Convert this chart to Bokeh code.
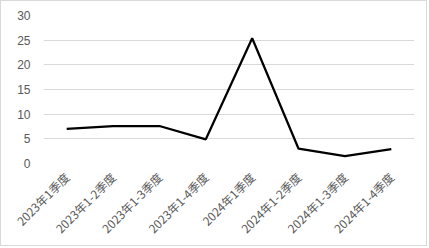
import math
from bokeh.plotting import figure
from bokeh.models import FactorRange, Range1d
from bokeh.embed import file_html
from bokeh.resources import INLINE

categories = ["2023年1季度", "2023年1-2季度", "2023年1-3季度", "2023年1-4季度",
              "2024年1季度", "2024年1-2季度", "2024年1-3季度", "2024年1-4季度"]
values = [7.0, 7.6, 7.6, 4.9, 25.4, 3.0, 1.5, 2.9]
y_ticks = [0, 5, 10, 15, 20, 25, 30]

p = figure(width=427, height=246, output_backend="svg", toolbar_location=None,
           x_range=FactorRange(*categories, range_padding=0),
           y_range=Range1d(0, 30),
           min_border_left=42, min_border_right=14, min_border_top=14, min_border_bottom=84,
           styles={"border": "1px solid #d9d9d9"})
p.outline_line_color = None
p.background_fill_color = "white"
p.border_fill_color = "white"

p.line(x=categories, y=values, line_color="black", line_width=2.25)

p.xgrid.grid_line_color = None
p.ygrid.grid_line_color = "#d9d9d9"
p.ygrid.grid_line_width = 1

p.yaxis.ticker = y_ticks
p.yaxis.axis_line_color = None
p.yaxis.major_tick_line_color = None
p.yaxis.minor_tick_line_color = None
p.yaxis.major_label_text_color = "#595959"
p.yaxis.major_label_text_font = "Liberation Sans"
p.yaxis.major_label_text_font_size = "12px"
p.yaxis.major_label_standoff = 7

p.xaxis.axis_line_color = None
p.xaxis.major_tick_line_color = None
p.xaxis.minor_tick_line_color = None
p.xaxis.major_label_orientation = math.pi / 4
p.xaxis.major_label_text_color = "#595959"
p.xaxis.major_label_text_font = "Noto Sans CJK SC"
p.xaxis.major_label_text_font_size = "11.8px"
p.xaxis.major_label_standoff = 5

open("out.html", "w").write(file_html(p, INLINE))
